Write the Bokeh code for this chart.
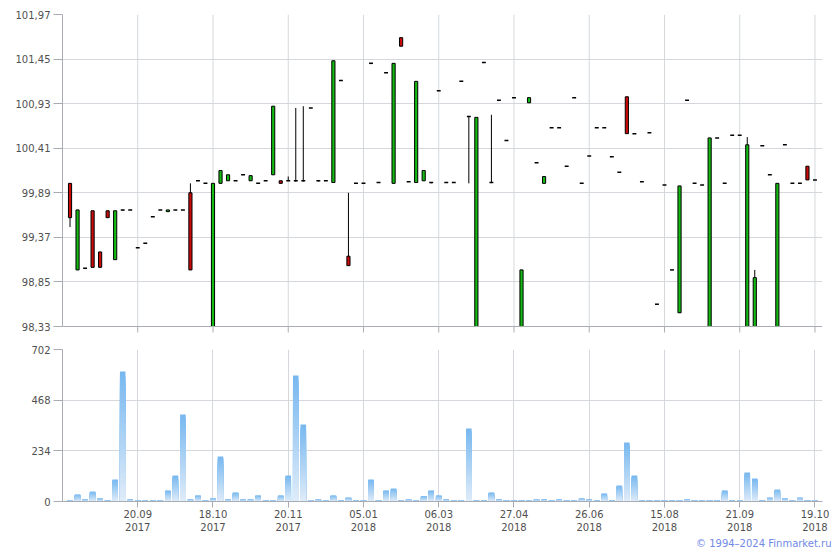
import numpy as np
from bokeh.plotting import figure
from bokeh.layouts import column
from bokeh.models import Range1d, FixedTicker, Span, Title
from bokeh.embed import file_html
from bokeh.resources import INLINE

# ---- data ----
tick_idx = [9, 19, 29, 39, 49, 59, 69, 79, 89, 99]
tick_labels = ["20.09\n2017", "18.10\n2017", "20.11\n2017", "05.01\n2018", "06.03\n2018",
               "27.04\n2018", "26.06\n2018", "15.08\n2018", "21.09\n2018", "19.10\n2018"]

price_ticks = [98.33, 98.85, 99.37, 99.89, 100.41, 100.93, 101.45, 101.97]
price_tick_labels = ["98,33", "98,85", "99,37", "99,89", "100,41", "100,93", "101,45", "101,97"]
vol_ticks = [0, 234, 468, 702]

opens = [100.00, 98.99, 99.01, 99.68, 99.20, 99.68, 99.11, 99.69, 99.69, 99.25,
         99.30, 99.61, 99.69, 99.67, 99.69, 99.69, 99.89, 100.03, 100.00, 98.10,
         100.00, 100.03, 100.03, 100.10, 100.03, 100.00, 100.03, 100.10, 100.03, 100.03,
         100.03, 100.03, 100.88, 100.03, 100.03, 100.01, 101.20, 99.15, 100.00, 100.00,
         101.40, 100.01, 101.29, 100.00, 101.70, 100.02, 100.01, 100.03, 100.01, 101.08,
         100.01, 100.01, 101.19, 100.78, 98.10, 101.41, 100.01, 100.97, 100.50, 101.00,
         98.10, 100.94, 100.24, 100.00, 100.65, 100.65, 100.20, 101.00, 100.00, 100.32,
         100.65, 100.65, 100.31, 100.13, 101.01, 100.58, 100.02, 100.59, 98.59, 99.98,
         98.99, 98.49, 100.97, 100.00, 99.98, 98.10, 100.53, 100.00, 100.56, 100.56,
         98.10, 98.10, 100.44, 100.10, 98.10, 100.45, 100.00, 100.00, 100.20, 100.04]
closes = [99.60, 99.69, 99.01, 99.02, 99.02, 99.60, 99.68, 99.69, 99.69, 99.25,
          99.30, 99.61, 99.69, 99.69, 99.69, 99.69, 98.99, 100.03, 100.00, 100.00,
          100.15, 100.10, 100.03, 100.10, 100.09, 100.00, 100.03, 100.90, 100.00, 100.03,
          100.03, 100.03, 100.88, 100.03, 100.03, 101.43, 101.20, 99.04, 100.00, 100.00,
          101.40, 100.01, 101.29, 101.40, 101.60, 100.02, 101.19, 100.15, 100.01, 101.08,
          100.01, 100.01, 101.19, 100.78, 100.77, 101.41, 100.01, 100.97, 100.50, 101.00,
          98.99, 101.00, 100.24, 100.08, 100.65, 100.65, 100.20, 101.00, 100.00, 100.32,
          100.65, 100.65, 100.31, 100.13, 100.58, 100.58, 100.02, 100.59, 98.59, 99.98,
          98.99, 99.97, 100.97, 100.00, 99.98, 100.53, 100.53, 100.00, 100.56, 100.56,
          100.45, 98.90, 100.44, 100.10, 100.00, 100.45, 100.00, 100.00, 100.04, 100.04]
highs = [100.00, 99.69, 99.01, 99.68, 99.20, 99.68, 99.68, 99.69, 99.69, 99.25,
         99.30, 99.61, 99.69, 99.69, 99.69, 99.69, 100.00, 100.03, 100.00, 100.00,
         100.15, 100.10, 100.03, 100.10, 100.09, 100.00, 100.03, 100.90, 100.03, 100.08,
         100.88, 100.90, 100.88, 100.03, 100.03, 101.43, 101.20, 99.89, 100.00, 100.00,
         101.40, 100.01, 101.29, 101.40, 101.70, 100.02, 101.19, 100.15, 100.01, 101.08,
         100.01, 100.01, 101.19, 100.78, 100.77, 101.41, 100.80, 100.97, 100.50, 101.00,
         98.99, 101.00, 100.24, 100.08, 100.65, 100.65, 100.20, 101.00, 100.00, 100.32,
         100.65, 100.65, 100.31, 100.13, 101.01, 100.58, 100.02, 100.59, 98.59, 99.98,
         98.99, 99.97, 100.97, 100.00, 99.98, 100.53, 100.53, 100.00, 100.56, 100.56,
         100.54, 98.99, 100.44, 100.10, 100.00, 100.45, 100.00, 100.00, 100.20, 100.04]
lows = [99.49, 98.99, 99.01, 99.02, 99.02, 99.60, 99.11, 99.68, 99.69, 99.25,
        99.30, 99.61, 99.69, 99.67, 99.69, 99.69, 98.99, 100.03, 100.00, 98.10,
        100.00, 100.03, 100.03, 100.10, 100.03, 100.00, 100.03, 100.10, 100.00, 100.03,
        100.02, 100.02, 100.88, 100.02, 100.03, 100.01, 101.20, 99.04, 100.00, 100.00,
        101.39, 100.01, 101.29, 100.00, 101.60, 100.02, 100.01, 100.03, 100.00, 101.08,
        100.01, 100.01, 101.19, 100.00, 98.10, 101.41, 100.01, 100.97, 100.50, 101.00,
        98.10, 100.94, 100.24, 100.00, 100.65, 100.65, 100.20, 101.00, 100.00, 100.32,
        100.65, 100.65, 100.31, 100.13, 100.58, 100.58, 100.02, 100.59, 98.59, 99.98,
        98.99, 98.49, 100.97, 100.00, 99.98, 98.10, 100.53, 100.00, 100.56, 100.56,
        98.10, 98.10, 100.44, 100.10, 98.10, 100.45, 100.00, 100.00, 100.04, 100.04]
volume = [5, 32, 9, 46, 14, 5, 102, 600, 9, 5,
          5, 5, 5, 51, 120, 402, 9, 28, 5, 14,
          208, 9, 42, 9, 9, 28, 5, 5, 28, 120,
          582, 356, 5, 9, 5, 28, 5, 18, 5, 5,
          102, 5, 51, 60, 5, 9, 5, 25, 51, 28,
          9, 5, 5, 337, 5, 5, 42, 9, 5, 5,
          5, 5, 9, 9, 5, 9, 5, 5, 14, 9,
          5, 37, 5, 74, 272, 120, 5, 5, 5, 5,
          5, 5, 9, 5, 5, 5, 5, 51, 5, 5,
          134, 106, 5, 18, 55, 14, 5, 18, 5, 5]

# ---- styles ----
FONT = "DejaVu Sans"
LBL = "#505050"
AXIS = "#a9adb3"
GRID = "#d4d8dc"
GREEN = "#12ba12"
RED = "#cc0a0a"

idx = np.arange(len(opens))
o = np.array(opens); c = np.array(closes); h = np.array(highs); l = np.array(lows)
doji = np.isclose(o, c)
up = (c > o) & ~doji
dn = (c < o) & ~doji

P_LO, P_HI = price_ticks[0], price_ticks[-1]
FRAME_H = 312
TICK_PX = 7
per_px = (P_HI - P_LO) / FRAME_H


def style_axis(ax):
    ax.axis_line_color = AXIS
    ax.major_tick_line_color = AXIS
    ax.minor_tick_line_color = None
    ax.major_tick_in = 0
    ax.major_label_text_font = FONT
    ax.major_label_text_font_size = "10px"
    ax.major_label_text_color = LBL


def style(p):
    p.background_fill_color = "white"
    p.border_fill_color = "white"
    p.outline_line_color = None
    p.ygrid.grid_line_color = GRID
    p.yaxis.major_tick_out = 9
    p.yaxis.major_label_standoff = 3
    style_axis(p.yaxis[0])


x_range = Range1d(-1.0, 100.0)

# ---- price panel (frame extended a few px below the axis for the x tick marks) ----
top = figure(frame_width=760, frame_height=FRAME_H + TICK_PX, min_border_left=62,
             min_border_right=16, min_border_top=14, min_border_bottom=0, x_range=x_range,
             y_range=Range1d(P_LO - TICK_PX * per_px, P_HI), output_backend="svg",
             toolbar_location=None)
style(top)
top.xaxis.visible = False
top.xgrid.visible = False
top.yaxis.ticker = FixedTicker(ticks=price_ticks)
top.yaxis.bounds = (P_LO, P_HI)
top.yaxis.major_label_overrides = {t: s for t, s in zip(price_ticks, price_tick_labels)}
top.ygrid.ticker = FixedTicker(ticks=price_ticks[1:])

tix = np.array(tick_idx, dtype=float)
top.segment(x0=tix, y0=P_LO, x1=tix, y1=P_HI, line_color=GRID, line_width=1)
top.segment(x0=tix, y0=P_LO, x1=tix, y1=P_LO - (TICK_PX - 1) * per_px, line_color=AXIS,
            line_width=1)

lo_c = np.maximum(l, P_LO)
o_c = np.maximum(o, P_LO)
top.segment(x0=idx, y0=lo_c, x1=idx, y1=h, line_color="black", line_width=1)
top.vbar(x=idx[up], bottom=o_c[up], top=c[up], width=0.42, fill_color=GREEN,
         line_color="black", line_width=1)
top.vbar(x=idx[dn], bottom=c[dn], top=o[dn], width=0.42, fill_color=RED,
         line_color="black", line_width=1)
top.segment(x0=idx[doji] - 0.26, y0=c[doji], x1=idx[doji] + 0.26, y1=c[doji],
            line_color="black", line_width=1.5)
top.add_layout(Span(location=P_LO, dimension="width", line_color=AXIS, line_width=1))

# ---- volume panel ----
bot = figure(frame_width=760, frame_height=152, min_border_left=62, min_border_right=16,
             min_border_top=16, min_border_bottom=30, x_range=x_range,
             y_range=Range1d(0, 702), output_backend="svg", toolbar_location=None)
style(bot)
style_axis(bot.xaxis[0])
bot.xgrid.grid_line_color = GRID
bot.xaxis.ticker = FixedTicker(ticks=tick_idx)
bot.xaxis.major_label_overrides = {t: s for t, s in zip(tick_idx, tick_labels)}
bot.xaxis.major_tick_out = 6
bot.xaxis.major_label_standoff = 1
bot.yaxis.ticker = FixedTicker(ticks=vol_ticks)

N = 28
light = np.array([0xe0, 0xec, 0xf9], dtype=float)
dark = np.array([0x76, 0xb7, 0xef], dtype=float)
v = np.array(volume, dtype=float)
L, R, T, C = [], [], [], []
for k in range(N, 0, -1):
    f = (k - 0.5) / N
    rgb = light + (dark - light) * f
    col = "#%02x%02x%02x" % tuple(int(round(q)) for q in rgb)
    for i in range(len(v)):
        L.append(i - 0.37); R.append(i + 0.37); T.append(v[i] * k / N); C.append(col)
bot.quad(left=L, right=R, bottom=0, top=T, fill_color=C, line_color=None)

bot.add_layout(Title(text="© 1994–2024 Finmarket.ru", align="right", text_font=FONT,
                     text_font_size="10px", text_font_style="normal",
                     text_color="#7189e6", standoff=0, offset=-9), "below")

layout = column(top, bot, spacing=0)
open("out.html", "w").write(file_html(layout, INLINE))
